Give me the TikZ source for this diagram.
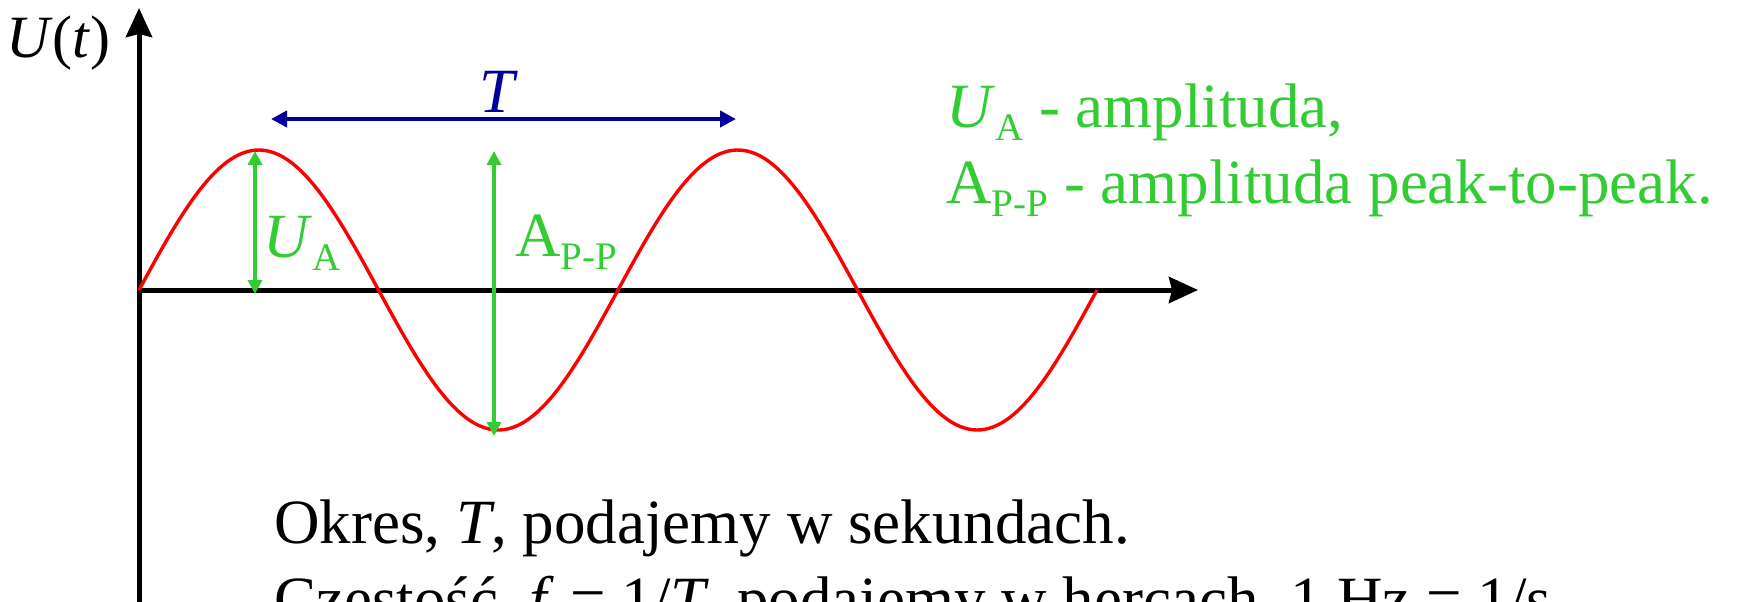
\documentclass[tikz,border=0pt]{standalone}
\usepackage{fontspec}
\setmainfont{Liberation Serif}
\usepackage{xcolor}
\usetikzlibrary{arrows.meta}
\definecolor{wave}{HTML}{FF0000}
\definecolor{ampl}{HTML}{33CC33}
\definecolor{per}{HTML}{000099}
\newcommand{\lo}[1]{\raisebox{-0.22em}{\fontsize{19.5}{20}\selectfont #1}}

\begin{document}
\begin{tikzpicture}[x=0.5pt, y=-0.5pt, font=\fontsize{31.5}{38}\selectfont,
  lbl/.style={inner sep=0pt, anchor=base west},
  axis/.style={line width=2.5pt, -{Stealth[length=14.5pt, width=13pt, inset=1.5pt]}},
  dim/.style={draw=ampl, line width=1.7pt, {Triangle[length=7pt, width=7pt]}-{Triangle[length=7pt, width=7pt]}},
  per/.style={draw=per, line width=2.2pt, {Triangle[length=8pt, width=8pt]}-{Triangle[length=8pt, width=8pt]}}]
\useasboundingbox (0,0) rectangle (1744,601);
% axes
\coordinate (o) at (139,290); \coordinate (ytop) at (139,8);
\coordinate (ybot) at (139,640); \coordinate (xend) at (1198,290);
\draw[axis] (ybot) -- (ytop); \draw[axis] (o) -- (xend);
\node[inner sep=0pt, anchor=base east, font=\fontsize{30}{36}\selectfont] (ul) at (111,57) {\textit{U}(\textit{t})};
% sine, two periods
\draw[wave, line width=1.7pt] plot[domain=0:958, samples=240, smooth] ({139+\x}, {290-140*sin(\x/479*360)});
% period
\coordinate (t1) at (271,119); \coordinate (t2) at (736,119);
\draw[per] (t1) -- (t2);
\node[inner sep=0pt, anchor=base, text=per] (tl) at (499,112) {\textit{T}};
% amplitudes
\coordinate (a1) at (255,151); \coordinate (a2) at (255,294);
\coordinate (p1) at (494,151); \coordinate (p2) at (494,436);
\draw[dim] (a1) -- (a2); \draw[dim] (p1) -- (p2);
\node[lbl, text=ampl] (ua) at (263,257) {\textit{U}\lo{A}};
\node[lbl, text=ampl] (app) at (515,256) {A\lo{P-P}};
% legend
\node[lbl, text=ampl] (leg1) at (946,127) {\textit{U}\lo{A} - amplituda,};
\node[lbl, text=ampl] (leg2) at (946,203) {A\lo{P-P} - amplituda peak-to-peak.};
% notes
\node[lbl] (n1) at (274,543) {Okres, \textit{T}, podajemy w sekundach.};
\node[lbl] (n2) at (274,620) {Częstość, \textit{f} = 1/\textit{T}, podajemy w hercach, 1 Hz = 1/s};
\end{tikzpicture}
\end{document}
